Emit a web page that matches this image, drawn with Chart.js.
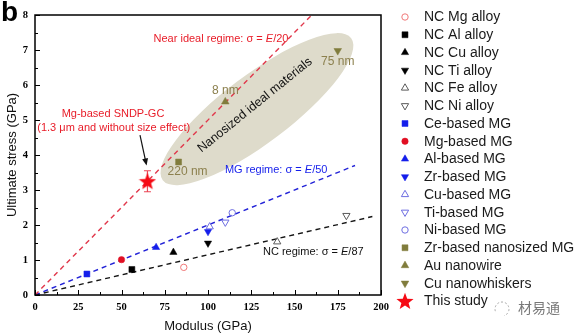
<!DOCTYPE html>
<html>
<head>
<meta charset="utf-8">
<script src="https://cdn.jsdelivr.net/npm/chart.js@4/dist/chart.umd.min.js"></script>
<style>
  html, body { margin: 0; padding: 0; background: #fff; }
  #wrap { width: 578px; height: 336px; }
</style>
</head>
<body>
<div id="wrap"><canvas id="c" width="578" height="336"></canvas></div>
<script>
// Ultimate stress (GPa) versus modulus (GPa)
const ncMgAlloy      = [{ x: 86,  y: 0.79 }];
const ncAlAlloy      = [{ x: 56,  y: 0.73 }];
const ncCuAlloy      = [{ x: 80,  y: 1.22 }];
const ncTiAlloy      = [{ x: 100, y: 1.48 }];
const ncFeAlloy      = [{ x: 140, y: 1.52 }];
const ncNiAlloy      = [{ x: 180, y: 2.27 }];
const ceBasedMG      = [{ x: 30,  y: 0.60 }];
const mgBasedMG      = [{ x: 50,  y: 1.01 }];
const alBasedMG      = [{ x: 70,  y: 1.36 }];
const zrBasedMG      = [{ x: 100, y: 1.81 }];
const cuBasedMG      = [{ x: 101, y: 1.95 }];
const tiBasedMG      = [{ x: 110, y: 2.08 }];
const niBasedMG      = [{ x: 114, y: 2.35 }];
const zrNanoMG       = [{ x: 83,  y: 3.80 }];
const auNanowire     = [{ x: 110, y: 5.52 }];
const cuNanowhiskers = [{ x: 175, y: 6.98 }];
const thisStudy      = [{ x: 65,  y: 3.25 }];
const thisStudyError = [0.30];

// sample sizes written next to the nanosized materials
const zrNanoSize     = ['220 nm'];
const auWireSize     = ['8 nm'];
const cuWhiskerSize  = ['75 nm'];

// regime lines sigma = E / n, drawn from E = 0 up to the listed modulus
const regimeDivisors = [20, 50, 87];
const regimeEnds     = [160, 185, 195];

// axes
const modulusRange = [0, 200];
const stressRange  = [0, 8];
const modulusStep  = 12.5;
const stressStep   = 0.5;
const modulusLabelEvery = 25;
const stressLabelEvery  = 1;

// ---------- marker styling ----------
const RED_TXT = 'rgb(232,28,40)';
const BLUE = 'rgb(20,30,235)';
const LBLUE = 'rgb(110,110,225)';
const OLIVE = 'rgb(128,124,60)';
const OLIVE_TXT = 'rgb(140,128,78)';
const PINK = 'rgb(240,120,120)';
const GREY = 'rgb(90,90,90)';

function makeStar(size, color) {
  const cv = document.createElement('canvas');
  cv.width = size; cv.height = size;
  const g = cv.getContext('2d');
  const cx = size / 2, cy = size / 2 + size * 0.04;
  const R = size / 2, r = R * 0.42;
  g.beginPath();
  for (let i = 0; i < 10; i++) {
    const rad = i % 2 === 0 ? R : r;
    const a = -Math.PI / 2 + i * Math.PI / 5;
    const px = cx + rad * Math.cos(a), py = cy + rad * Math.sin(a);
    i === 0 ? g.moveTo(px, py) : g.lineTo(px, py);
  }
  g.closePath();
  g.fillStyle = color;
  g.fill();
  return cv;
}
const starImg = makeStar(18, 'rgb(245,10,20)');

function scatterSet(label, data, shape, rot, radius, color, hollow) {
  return {
    type: 'scatter',
    label, data,
    pointStyle: shape,
    pointRotation: rot,
    pointRadius: radius,
    pointHoverRadius: radius,
    backgroundColor: hollow ? 'rgba(0,0,0,0)' : color,
    borderColor: color,
    pointBorderWidth: hollow ? 1 : 0.5,
    order: 1
  };
}

const markerSets = [
  scatterSet('NC Mg alloy', ncMgAlloy, 'circle', 0, 3.2, PINK, true),
  scatterSet('NC Al alloy', ncAlAlloy, 'rect', 0, 4.2, '#000', false),
  scatterSet('NC Cu alloy', ncCuAlloy, 'triangle', 0, 4.2, '#000', false),
  scatterSet('NC Ti alloy', ncTiAlloy, 'triangle', 180, 4.2, '#000', false),
  scatterSet('NC Fe alloy', ncFeAlloy, 'triangle', 0, 4.2, GREY, true),
  scatterSet('NC Ni alloy', ncNiAlloy, 'triangle', 180, 4.2, GREY, true),
  scatterSet('Ce-based MG', ceBasedMG, 'rect', 0, 4.2, BLUE, false),
  scatterSet('Mg-based MG', mgBasedMG, 'circle', 0, 3.2, 'rgb(225,15,35)', false),
  scatterSet('Al-based MG', alBasedMG, 'triangle', 0, 4.2, BLUE, false),
  scatterSet('Zr-based MG', zrBasedMG, 'triangle', 180, 4.2, BLUE, false),
  scatterSet('Cu-based MG', cuBasedMG, 'triangle', 0, 4.2, LBLUE, true),
  scatterSet('Ti-based MG', tiBasedMG, 'triangle', 180, 4.2, LBLUE, true),
  scatterSet('Ni-based MG', niBasedMG, 'circle', 0, 3.2, LBLUE, true),
  scatterSet('Zr-based nanosized MG', zrNanoMG, 'rect', 0, 4.2, OLIVE, false),
  scatterSet('Au nanowire', auNanowire, 'triangle', 0, 4.4, OLIVE, false),
  scatterSet('Cu nanowhiskers', cuNanowhiskers, 'triangle', 180, 4.4, OLIVE, false),
  scatterSet('This study', thisStudy, starImg, 0, 9, 'rgb(245,10,20)', false)
];

const regimeColors = ['rgb(225,55,75)', 'rgb(35,35,215)', 'rgb(20,20,20)'];
const regimeSets = regimeDivisors.map((n, i) => ({
  type: 'line',
  label: 'E/' + n,
  isGuide: true,
  data: [{ x: 0, y: 0 }, { x: regimeEnds[i], y: regimeEnds[i] / n }],
  borderColor: regimeColors[i],
  borderWidth: 1.4,
  borderDash: [5, 4],
  pointRadius: 0,
  fill: false,
  order: 2
}));

// ---------- helpers ----------
function richText(ctx, parts, x, y, align, color, size) {
  const fam = '"Liberation Sans", Arial, sans-serif';
  let total = 0;
  parts.forEach(p => {
    ctx.font = (p.i ? 'italic ' : '') + size + 'px ' + fam;
    total += ctx.measureText(p.t).width;
  });
  let cx = align === 'center' ? x - total / 2 : x;
  ctx.fillStyle = color;
  ctx.textAlign = 'left';
  ctx.textBaseline = 'middle';
  parts.forEach(p => {
    ctx.font = (p.i ? 'italic ' : '') + size + 'px ' + fam;
    ctx.fillText(p.t, cx, y);
    cx += ctx.measureText(p.t).width;
  });
}

// Background: nanosized-material ellipse and its caption, error bar of this study
const backdropPlugin = {
  id: 'backdrop',
  beforeDatasetsDraw(chart) {
    const { ctx, scales: { x, y } } = chart;
    ctx.save();
    const ex = x.getPixelForValue(128.3), ey = y.getPixelForValue(5.31);
    const ang = -37 * Math.PI / 180;
    ctx.translate(ex, ey);
    ctx.rotate(ang);
    ctx.beginPath();
    ctx.ellipse(0, 0, 118, 34, 0, 0, Math.PI * 2);
    ctx.fillStyle = 'rgb(222,219,203)';
    ctx.fill();
    ctx.restore();

    ctx.save();
    ctx.translate(ex - 2, ey - 4);
    ctx.rotate(-39 * Math.PI / 180);
    ctx.font = '12.5px "Liberation Sans", Arial, sans-serif';
    ctx.fillStyle = '#111';
    ctx.textAlign = 'center';
    ctx.textBaseline = 'middle';
    ctx.fillText('Nanosized ideal materials', 0, 0);
    ctx.restore();

    // error bar
    ctx.save();
    const p = thisStudy[0], e = thisStudyError[0];
    const px = x.getPixelForValue(p.x);
    const yTop = y.getPixelForValue(p.y + e), yBot = y.getPixelForValue(p.y - e);
    ctx.strokeStyle = 'rgb(235,70,85)';
    ctx.lineWidth = 1.2;
    ctx.beginPath();
    ctx.moveTo(px, yTop); ctx.lineTo(px, yBot);
    ctx.moveTo(px - 3.5, yTop); ctx.lineTo(px + 3.5, yTop);
    ctx.moveTo(px - 3.5, yBot); ctx.lineTo(px + 3.5, yBot);
    ctx.stroke();
    ctx.restore();
  }
};

// Frame, inward ticks, annotations, legend
const overlayPlugin = {
  id: 'overlay',
  afterDraw(chart) {
    const { ctx, chartArea: a, scales: { x, y } } = chart;
    ctx.save();
    // inward tick marks
    ctx.strokeStyle = '#000';
    ctx.lineWidth = 1;
    ctx.beginPath();
    x.ticks.forEach(t => {
      const px = Math.round(x.getPixelForValue(t.value)) + 0.5;
      const len = t.value % modulusLabelEvery === 0 ? 5 : 3;
      ctx.moveTo(px, a.bottom); ctx.lineTo(px, a.bottom - len);
    });
    y.ticks.forEach(t => {
      const py = Math.round(y.getPixelForValue(t.value)) + 0.5;
      const len = t.value % stressLabelEvery === 0 ? 5 : 3;
      ctx.moveTo(a.left, py); ctx.lineTo(a.left + len, py);
    });
    ctx.stroke();
    // frame
    ctx.lineWidth = 1.5;
    ctx.strokeRect(a.left, a.top, a.right - a.left, a.bottom - a.top);

    // regime labels
    richText(ctx, [{ t: 'Near ideal regime: \u03c3 = ' }, { t: 'E', i: true }, { t: '/' + regimeDivisors[0] }],
      x.getPixelForValue(107.5), y.getPixelForValue(7.31), 'center', RED_TXT, 11);
    richText(ctx, [{ t: 'MG regime: \u03c3 = ' }, { t: 'E', i: true }, { t: '/' + regimeDivisors[1] }],
      x.getPixelForValue(109.8), y.getPixelForValue(3.57), 'left', BLUE, 11);
    richText(ctx, [{ t: 'NC regime: \u03c3 = ' }, { t: 'E', i: true }, { t: '/' + regimeDivisors[2] }],
      x.getPixelForValue(131.8), y.getPixelForValue(1.23), 'left', '#111', 11);

    // this-study callout
    richText(ctx, [{ t: 'Mg-based SNDP-GC' }], x.getPixelForValue(45.1), y.getPixelForValue(5.17), 'center', RED_TXT, 11);
    richText(ctx, [{ t: '(1.3 \u03bcm and without size effect)' }], x.getPixelForValue(45.5), y.getPixelForValue(4.77), 'center', RED_TXT, 11);
    const ax0 = x.getPixelForValue(60.7), ay0 = y.getPixelForValue(4.57);
    const ax1 = x.getPixelForValue(64.5), ay1 = y.getPixelForValue(3.7);
    const ang = Math.atan2(ay1 - ay0, ax1 - ax0);
    ctx.strokeStyle = '#111'; ctx.fillStyle = '#111'; ctx.lineWidth = 1.2;
    ctx.beginPath(); ctx.moveTo(ax0, ay0);
    ctx.lineTo(ax1 - 5 * Math.cos(ang), ay1 - 5 * Math.sin(ang)); ctx.stroke();
    ctx.beginPath();
    ctx.moveTo(ax1, ay1);
    ctx.lineTo(ax1 - 7 * Math.cos(ang) + 3 * Math.sin(ang), ay1 - 7 * Math.sin(ang) - 3 * Math.cos(ang));
    ctx.lineTo(ax1 - 7 * Math.cos(ang) - 3 * Math.sin(ang), ay1 - 7 * Math.sin(ang) + 3 * Math.cos(ang));
    ctx.closePath(); ctx.fill();

    // size tags
    const tag = (pt, txt, dx, dy, align) => richText(ctx, [{ t: txt }],
      x.getPixelForValue(pt.x) + dx, y.getPixelForValue(pt.y) + dy, align, OLIVE_TXT, 12);
    tag(zrNanoMG[0], zrNanoSize[0], -11, 10, 'left');
    tag(auNanowire[0], auWireSize[0], 0, -11, 'center');
    tag(cuNanowhiskers[0], cuWhiskerSize[0], 0, 11, 'center');

    // legend
    const lx = a.right + 24, tx = a.right + 43;
    let ly = 17;
    chart.data.datasets.forEach(ds => {
      if (ds.isGuide) return;
      ctx.save();
      ctx.fillStyle = ds.backgroundColor;
      ctx.strokeStyle = ds.borderColor;
      ctx.lineWidth = ds.pointBorderWidth;
      Chart.helpers.drawPoint(ctx, {
        pointStyle: ds.pointStyle, rotation: ds.pointRotation,
        radius: ds.pointRadius, borderWidth: ds.pointBorderWidth
      }, lx, ly);
      ctx.restore();
      ctx.font = '14px "Liberation Sans", Arial, sans-serif';
      ctx.fillStyle = '#1a1a1a';
      ctx.textAlign = 'left';
      ctx.textBaseline = 'middle';
      ctx.fillText(ds.label, tx, ly + 0.5);
      ly += 17.75;
    });

    // panel letter
    ctx.font = 'bold 28px "Liberation Sans", Arial, sans-serif';
    ctx.fillStyle = '#000';
    ctx.textAlign = 'left';
    ctx.textBaseline = 'alphabetic';
    ctx.fillText('b', 1, 21);

    // watermark
    ctx.font = '14px "Noto Sans CJK SC", sans-serif';
    ctx.fillStyle = 'rgb(120,120,120)';
    ctx.textBaseline = 'middle';
    ctx.fillText('材易通', 518, 308);
    ctx.strokeStyle = 'rgb(170,170,170)';
    ctx.lineWidth = 1;
    ctx.setLineDash([2, 2]);
    ctx.beginPath();
    ctx.arc(502, 309, 7, Math.PI * 0.9, Math.PI * 2.4);
    ctx.stroke();
    ctx.setLineDash([]);
    ctx.restore();
  }
};

const tickFont = { family: '"Liberation Serif", "Times New Roman", serif', size: 10.5, weight: 'bold' };

new Chart(document.getElementById('c'), {
  data: { datasets: [...markerSets, ...regimeSets] },
  options: {
    responsive: false,
    animation: false,
    events: [],
    layout: { padding: { top: 15, right: 197, left: 0, bottom: 0 } },
    plugins: { legend: { display: false }, tooltip: { enabled: false } },
    scales: {
      x: {
        type: 'linear',
        min: modulusRange[0], max: modulusRange[1],
        grid: { display: false, drawTicks: false },
        border: { display: false },
        ticks: {
          stepSize: modulusStep,
          autoSkip: false,
          maxRotation: 0,
          padding: 6,
          color: '#000',
          font: tickFont,
          callback: v => (v % modulusLabelEvery === 0 ? String(v) : '')
        },
        title: {
          display: true, text: 'Modulus (GPa)', color: '#111',
          font: { family: '"Liberation Sans", Arial, sans-serif', size: 13 },
          padding: { top: 0, bottom: 2 }
        },
        afterFit: s => { s.height = 41; }
      },
      y: {
        type: 'linear',
        min: stressRange[0], max: stressRange[1],
        grid: { display: false, drawTicks: false },
        border: { display: false },
        ticks: {
          stepSize: stressStep,
          autoSkip: false,
          padding: 7,
          color: '#000',
          font: tickFont,
          callback: v => (v % stressLabelEvery === 0 ? String(v) : '')
        },
        title: {
          display: true, text: 'Ultimate stress (GPa)', color: '#111',
          font: { family: '"Liberation Sans", Arial, sans-serif', size: 13 },
          padding: { top: 5, bottom: 0 }
        },
        afterFit: s => { s.width = 35; }
      }
    }
  },
  plugins: [backdropPlugin, overlayPlugin]
});
</script>
</body>
</html>
